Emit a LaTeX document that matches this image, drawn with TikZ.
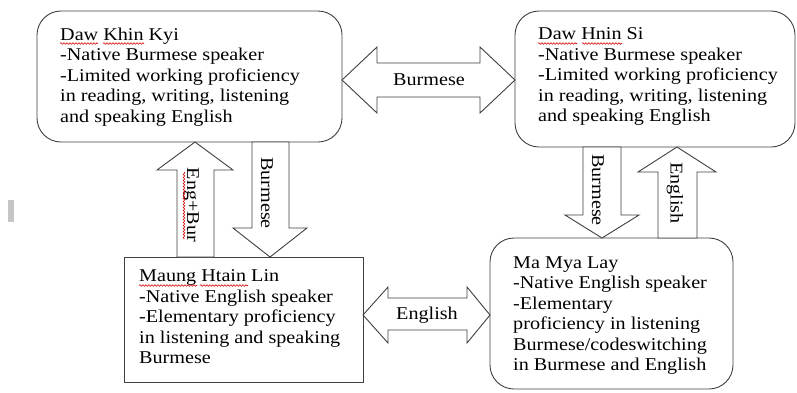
\documentclass[tikz,border=0pt]{standalone}
\usepackage{fontspec}
\setmainfont{Liberation Serif}[FakeStretch=1.12]
\usetikzlibrary{decorations.pathmorphing}
\begin{document}
\begin{tikzpicture}[x=1pt,y=-1pt,
  line join=miter,
  ln/.style={draw=black!75, line width=0.9pt},
  rbox/.style={ln, rounded corners=24pt, anchor=north west, inner sep=0, outer sep=0},
  sbox/.style={ln, anchor=north west, inner sep=0, outer sep=0},
  txt/.style={anchor=north west, align=left, inner sep=0, font=\fontsize{18}{20.5}\selectfont, text=black},
  lab/.style={inner sep=0, font=\fontsize{18}{20.5}\selectfont, text=black},
  barrow/.style={ln, fill=white},
  squig/.style={draw=red!85!black, line width=0.6pt, decorate, decoration={snake, segment length=3pt, amplitude=0.8pt}}]
\useasboundingbox (0,0) rectangle (797,392);

% small grey mark
\fill[gray!45] (8,200) rectangle (14,222);

% boxes
\node[rbox, minimum width=305pt, minimum height=131pt] (b1) at (37,11) {};
\node[rbox, minimum width=280pt, minimum height=136pt] (b2) at (515,11) {};
\node[sbox, minimum width=239pt, minimum height=125pt] (b3) at (124,257) {};
\node[rbox, minimum width=243pt, minimum height=151pt] (b4) at (490,238) {};

% block arrows
% Burmese double arrow between b1 and b2
\draw[barrow] (b1.east |- 0,80) -- (377,47) -- (377,63) -- (480,63) -- (480,47) -- (b2.west |- 0,80)
  -- (480,113) -- (480,97) -- (377,97) -- (377,113) -- cycle;
% Eng+Bur up arrow b3 -> b1
\draw[barrow] (195,142) -- (233,170) -- (214,170) -- (214,257) -- (177,257) -- (177,170) -- (157,170) -- cycle;
% Burmese down arrow b1 -> b3
\draw[barrow] (252,142) -- (289,142) -- (289,228) -- (307,228) -- (270,257) -- (233,228) -- (252,228) -- cycle;
% English double arrow between b3 and b4
\draw[barrow] (b3.east |- 0,315) -- (388,287) -- (388,298) -- (467,298) -- (467,287) -- (b4.west |- 0,315)
  -- (467,343) -- (467,330) -- (388,330) -- (388,343) -- cycle;
% Burmese down arrow b2 -> b4
\draw[barrow] (583,147) -- (621,147) -- (621,215) -- (639,215) -- (602,238) -- (565,215) -- (583,215) -- cycle;
% English up arrow b4 -> b2
\draw[barrow] (677,147) -- (716,172) -- (697,172) -- (697,238) -- (658,238) -- (658,172) -- (638,172) -- cycle;

% arrow labels
\node[lab] (l1) at (429,80) {Burmese};
\node[lab, rotate=-90] (l2) at (191,205) {Eng+Bur};
\node[lab, rotate=-90] (l3) at (267,193) {Burmese};
\node[lab] (l4) at (427,315) {English};
\node[lab, rotate=-90] (l5) at (598,190) {Burmese};
\node[lab, rotate=-90] (l6) at (675,193) {English};

% box texts
\node[txt] (t1) at (60,27.7) {Daw Khin Kyi\\-Native Burmese speaker\\-Limited working proficiency\\in reading, writing, listening\\and speaking English};
\node[txt] (t2) at (538,27.7) {Daw Hnin Si\\-Native Burmese speaker\\-Limited working proficiency\\in reading, writing, listening\\and speaking English};
\node[txt] (t3) at (139,269.7) {Maung Htain Lin\\-Native English speaker\\-Elementary proficiency\\in listening and speaking\\Burmese};
\node[txt] (t4) at (513,256.3) {Ma Mya Lay\\-Native English speaker\\-Elementary\\proficiency in listening\\Burmese/codeswitching\\in Burmese and English};

% spell-check squiggles
\draw[squig] (60,43.5) -- (98,43.5);
\draw[squig] (103,43.5) -- (144,43.5);
\draw[squig] (538,43.5) -- (577,43.5);
\draw[squig] (582,43.5) -- (622,43.5);
\draw[squig] (139,285.5) -- (197,285.5);
\draw[squig] (200,285.5) -- (248,285.5);
\draw[squig] (184,172) -- (184,239);
\end{tikzpicture}
\end{document}
